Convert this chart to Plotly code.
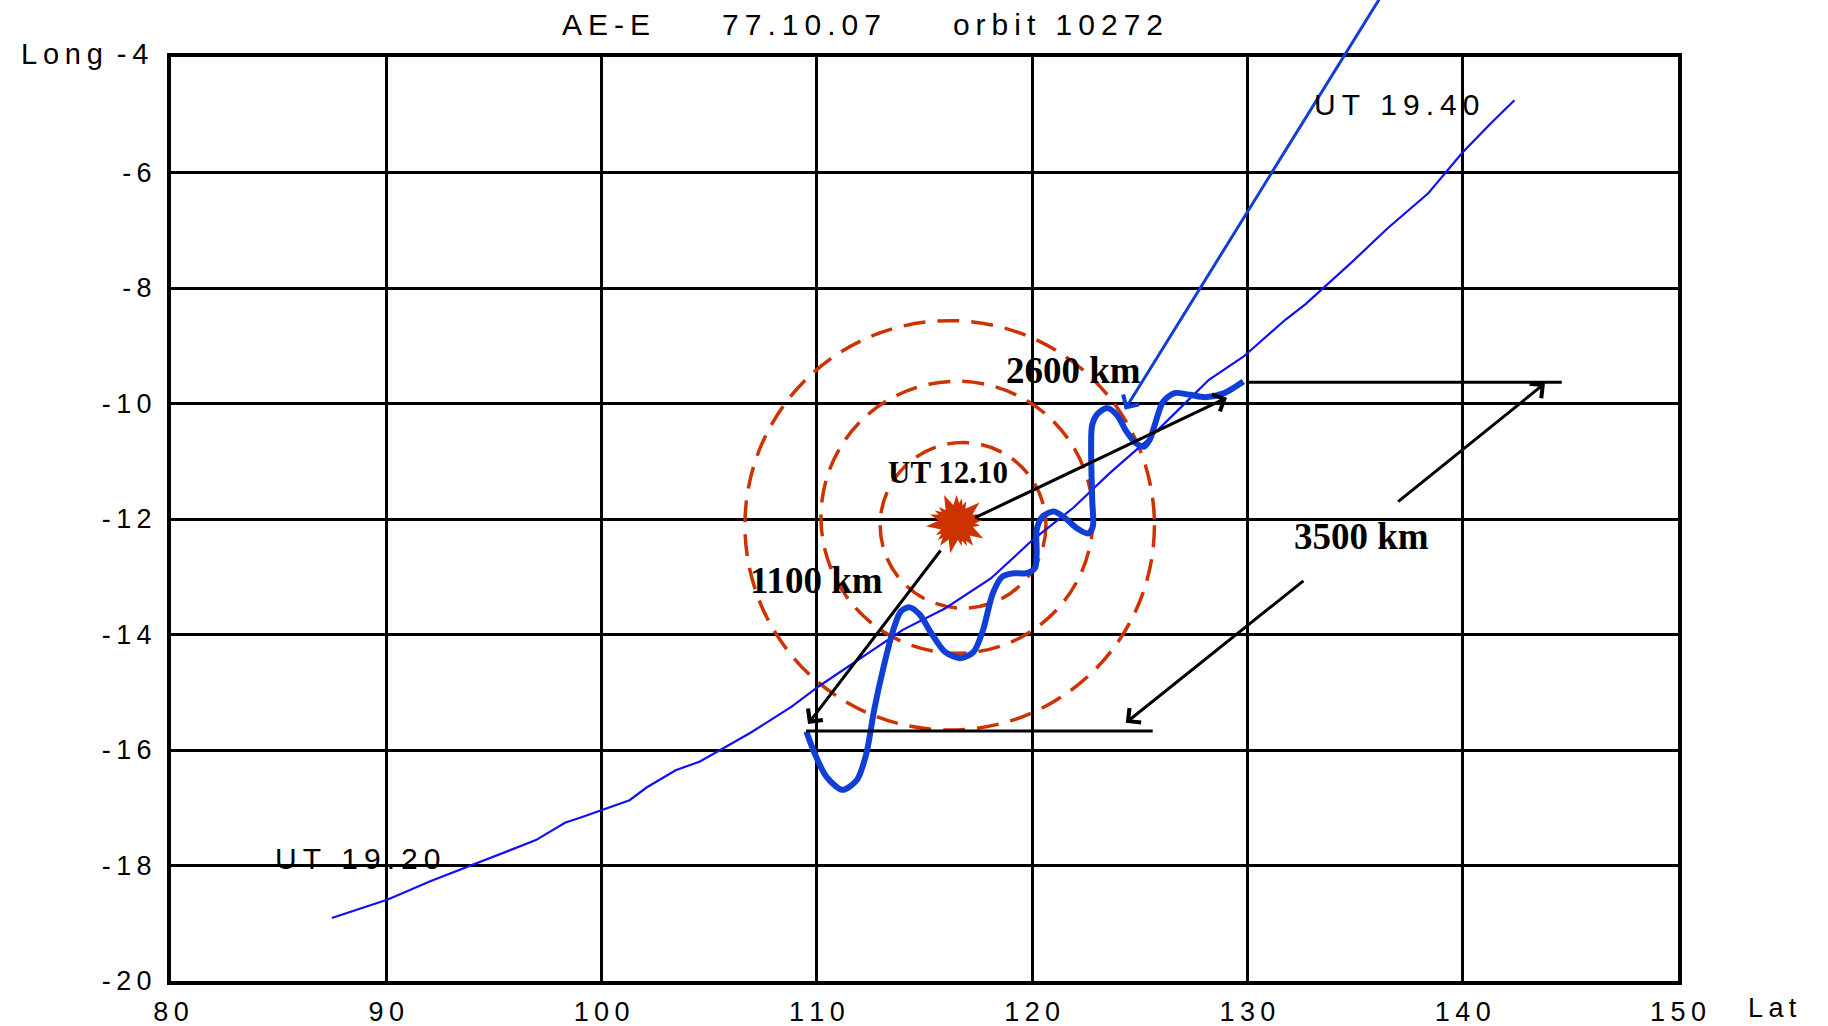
import plotly.graph_objects as go

# ---------------- data ----------------
x_ticks = [80, 90, 100, 110, 120, 130, 140, 150]
y_ticks = [-20, -18, -16, -14, -12, -10, -8, -6, -4]

# satellite track (thin line): Lat, Long
track_lat = [87.47, 88.28, 90.07, 92.07, 94.24, 96.95, 98.30, 99.10, 101.30, 102.09, 103.44,
             104.57, 106.88, 108.83, 110.08, 112.03, 113.99, 115.95, 118.08, 120.03, 121.90,
             123.59, 125.37, 126.79, 128.21, 129.81, 131.76, 132.70, 134.80, 136.50, 138.40,
             140.00, 141.30, 142.40]
track_long = [-18.91, -18.81, -18.59, -18.27, -17.96, -17.56, -17.26, -17.16, -16.87, -16.65, -16.35,
              -16.20, -15.71, -15.25, -14.90, -14.41, -13.92, -13.55, -13.03, -12.36, -11.81,
              -11.21, -10.63, -10.11, -9.59, -9.19, -8.55, -8.28, -7.57, -6.97, -6.36,
              -5.65, -5.15, -4.75]

# disturbance (thick wavy line)
wave_lat = [109.51, 109.90, 110.44, 111.18, 111.86, 112.30, 112.66, 113.10, 113.55, 113.90,
            114.31, 114.79, 115.32, 115.95, 116.66, 117.28, 117.72, 118.17, 118.61, 119.15,
            119.68, 120.13, 120.21, 120.21, 120.48, 121.01, 121.55, 122.08, 122.61, 122.82,
            122.79, 122.74, 122.79, 123.06, 123.50, 123.94, 124.39, 124.83, 125.19, 125.46,
            125.72, 126.08, 126.61, 127.33, 128.03, 128.92, 129.81]
wave_long = [-15.68, -16.06, -16.46, -16.69, -16.52, -16.06, -15.31, -14.56, -13.92, -13.60,
             -13.53, -13.66, -13.98, -14.30, -14.41, -14.30, -13.92, -13.29, -13.00, -12.94,
             -12.94, -12.85, -12.59, -12.19, -11.96, -11.87, -11.99, -12.16, -12.25, -12.13,
             -11.67, -10.81, -10.37, -10.17, -10.08, -10.20, -10.49, -10.69, -10.75, -10.63,
             -10.34, -9.97, -9.82, -9.85, -9.89, -9.82, -9.62]

# epicentre
epi_lat = [116.49]
epi_long = [-12.07]

# dashed circles: centre lat, centre long, half-width (lat), half-height (long)
circ_lat = [116.79, 116.51, 116.17]
circ_long = [-12.11, -11.97, -12.11]
circ_rx = [3.85, 6.32, 9.51]
circ_ry = [1.434, 2.355, 3.545]

# horizontal reference lines: lat start, lat end, long
hline_lat0 = [109.5, 130.0]
hline_lat1 = [125.6, 144.6]
hline_long = [-15.67, -9.63]

# arrows: head (lat, long), tail (lat, long)
arrow_head_lat = [129.05, 109.59, 143.82, 124.35]
arrow_head_long = [-9.90, -15.55, -9.65, -15.53]
arrow_tail_lat = [117.28, 115.80, 136.93, 132.67]
arrow_tail_long = [-11.99, -12.52, -11.72, -13.05]

blue_arrow_head = (124.30, -10.11)
blue_arrow_tail = (136.97, -2.49)

# labels
km_text = ["2600 km", "1100 km", "3500 km"]
km_lat = [121.94, 109.99, 135.30]
km_long = [-9.43, -13.07, -12.31]

ut_text = ["UT 19.40", "UT 19.20"]
ut_lat = [136.93, 88.67]
ut_long = [-4.83, -17.88]

TS = "\u2009"  # thin space used as letter spacing


def spaced(s):
    return TS.join(s)


SANS = "Liberation Sans, Arial, sans-serif"
SERIF = "Liberation Serif, Times New Roman, serif"
RED = "#CC3300"
BLUE_THICK = "#0F3FD4"
BLUE_THIN = "#1010F0"

fig = go.Figure()

# track
fig.add_trace(go.Scatter(x=track_lat, y=track_long, mode="lines",
                         line=dict(color=BLUE_THIN, width=2.2), hoverinfo="skip"))
# wave
fig.add_trace(go.Scatter(x=wave_lat, y=wave_long, mode="lines",
                         line=dict(color=BLUE_THICK, width=6, shape="spline", smoothing=0.8),
                         hoverinfo="skip"))
# horizontal lines
for a, b, c in zip(hline_lat0, hline_lat1, hline_long):
    fig.add_trace(go.Scatter(x=[a, b], y=[c, c], mode="lines",
                             line=dict(color="black", width=3), hoverinfo="skip"))
# epicentre star
for ang, sz in [(0, 40), (24, 34), (48, 44), (12, 36)]:
    fig.add_trace(go.Scatter(x=epi_lat, y=epi_long, mode="markers",
                             marker=dict(symbol="star", size=sz, angle=ang, color=RED,
                                         line=dict(width=0)),
                             hoverinfo="skip"))

# circles
for cx, cy, rx, ry in zip(circ_lat, circ_long, circ_rx, circ_ry):
    fig.add_shape(type="circle", xref="x", yref="y",
                  x0=cx - rx, x1=cx + rx, y0=cy - ry, y1=cy + ry,
                  line=dict(color=RED, width=3.5, dash="22px,12px"), layer="between")

# black arrows
for hx, hy, tx, ty in zip(arrow_head_lat, arrow_head_long, arrow_tail_lat, arrow_tail_long):
    fig.add_annotation(x=hx, y=hy, ax=tx, ay=ty, xref="x", yref="y", axref="x", ayref="y",
                       text="", showarrow=True, arrowhead=4, arrowsize=1.2,
                       arrowwidth=3, arrowcolor="black")
# blue arrow
fig.add_annotation(x=blue_arrow_head[0], y=blue_arrow_head[1],
                   ax=blue_arrow_tail[0], ay=blue_arrow_tail[1],
                   xref="x", yref="y", axref="x", ayref="y",
                   text="", showarrow=True, arrowhead=4, arrowsize=1.2,
                   arrowwidth=3, arrowcolor=BLUE_THICK)

# km labels
for t, x, y in zip(km_text, km_lat, km_long):
    fig.add_annotation(x=x, y=y, text="<b>" + t + "</b>", showarrow=False,
                       font=dict(family=SERIF, size=37, color="black"),
                       xanchor="center", yanchor="middle")
fig.add_annotation(x=116.07, y=-11.19, text="<b>UT 12.10</b>", showarrow=False,
                   font=dict(family=SERIF, size=31, color="black"),
                   xanchor="center", yanchor="middle")

# UT labels
for t, x, y in zip(ut_text, ut_lat, ut_long):
    fig.add_annotation(x=x, y=y, text=spaced(t), showarrow=False,
                       font=dict(family=SANS, size=30, color="black"),
                       xanchor="center", yanchor="middle")

# title
gap = TS + "\u2003\u2003" + TS
title = gap.join([spaced("AE-E"), spaced("77.10.07"), spaced("orbit 10272")])
fig.add_annotation(x=0.459, y=1.0357, xref="paper", yref="paper", text=title,
                   showarrow=False, font=dict(family=SANS, size=30, color="black"),
                   xanchor="center", yanchor="middle")
# axis names
fig.add_annotation(x=-0.0139, y=1.003, xref="paper", yref="paper",
                   text=spaced("Long") + TS + "\u00a0" + spaced("-4"),
                   showarrow=False, font=dict(family=SANS, size=29, color="black"),
                   xanchor="right", yanchor="middle")
fig.add_annotation(x=1.063, y=-0.029, xref="paper", yref="paper", text=spaced("Lat"),
                   showarrow=False, font=dict(family=SANS, size=27, color="black"),
                   xanchor="center", yanchor="middle")

x_ticktext = [spaced(str(v)) for v in x_ticks]
y_ticktext = [spaced(str(v)) if v != -4 else "" for v in y_ticks]

fig.update_layout(
    width=1828, height=1026, autosize=False,
    margin=dict(l=171, r=150, t=57, b=45),
    paper_bgcolor="white", plot_bgcolor="white",
    showlegend=False,
    xaxis=dict(range=[80, 150], tickvals=x_ticks, ticktext=x_ticktext,
               showgrid=True, gridcolor="black", gridwidth=2.5,
               showline=True, linecolor="black", linewidth=4, mirror=True,
               zeroline=False, ticks="", ticklabelstandoff=4, automargin=False,
               tickfont=dict(family=SANS, size=27, color="black")),
    yaxis=dict(range=[-20, -4], tickvals=y_ticks, ticktext=y_ticktext,
               showgrid=True, gridcolor="black", gridwidth=2.5,
               showline=True, linecolor="black", linewidth=4, mirror=True,
               zeroline=False, ticks="", ticklabelstandoff=10, automargin=False,
               tickfont=dict(family=SANS, size=27, color="black")),
)

fig.write_html("out.html")
